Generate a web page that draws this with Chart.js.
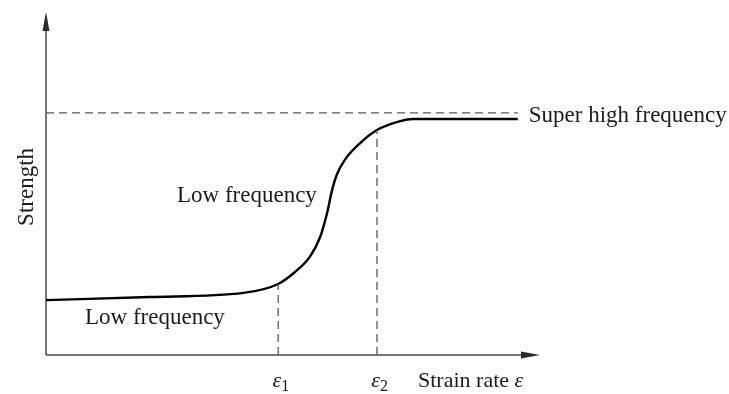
<!DOCTYPE html>
<html>
<head>
<meta charset="utf-8">
<script src="https://cdn.jsdelivr.net/npm/chart.js@4"></script>
<style>
  html, body { margin: 0; padding: 0; background: #fff; }
  #wrap { width: 729px; height: 394px; }
</style>
</head>
<body>
<div id="wrap"><canvas id="grafico" width="729" height="394"></canvas></div>
<script>
// valores (unidades arbitrárias 0..10)
const strainRate = [0, 2.1, 4.0, 4.7, 5.04, 5.34, 5.55, 5.69, 5.79, 5.89, 6.05, 6.36, 6.7, 7.17, 7.43, 9.55];
const strength   = [1.60, 1.69, 1.81, 2.07, 2.42, 2.86, 3.44, 4.14, 4.80, 5.27, 5.69, 6.18, 6.56, 6.82, 6.88, 6.88];
const superHigh = 7.06;          // nível "super high frequency"
const epsMarks = [4.7, 6.7];     // ε1, ε2
const epsLevels = [2.07, 6.56];  // onde as tracejadas tocam a curva
const tickLabels = ['1', '2'];
const xMaxData = 9.55;

const FONTE = '"Liberation Serif", "Times New Roman", serif';
const COR_TEXTO = '#1b1b1b';

const curva = strainRate.map((x, i) => ({ x: x, y: strength[i] }));

// plugin: eixos com setas e textos
const anotacoes = {
  id: 'anotacoes',
  beforeDatasetsDraw(chart) {
    const { ctx, scales: { x, y } } = chart;
    const x0 = x.getPixelForValue(0), y0 = y.getPixelForValue(0);
    const xEnd = x.getPixelForValue(10), yEnd = y.getPixelForValue(10);
    ctx.save();
    ctx.strokeStyle = '#4a4a4a';
    ctx.fillStyle = '#2a2a2a';
    ctx.lineWidth = 1.5;
    ctx.beginPath();
    ctx.moveTo(x0, y0);
    ctx.lineTo(x0, yEnd + 10);
    ctx.moveTo(x0, y0);
    ctx.lineTo(xEnd - 10, y0);
    ctx.stroke();
    // setas
    ctx.beginPath();
    ctx.moveTo(x0, yEnd);
    ctx.lineTo(x0 - 3.5, yEnd + 19);
    ctx.lineTo(x0 + 3.5, yEnd + 19);
    ctx.closePath();
    ctx.fill();
    ctx.beginPath();
    ctx.moveTo(xEnd, y0);
    ctx.lineTo(xEnd - 19, y0 - 3.5);
    ctx.lineTo(xEnd - 19, y0 + 3.5);
    ctx.closePath();
    ctx.fill();
    ctx.restore();
  },
  afterDraw(chart) {
    const { ctx, scales: { x, y } } = chart;
    ctx.save();
    ctx.fillStyle = COR_TEXTO;
    ctx.textBaseline = 'alphabetic';
    ctx.font = '23px ' + FONTE;
    ctx.textAlign = 'left';
    ctx.fillText('Super high frequency', x.getPixelForValue(xMaxData) + 11, y.getPixelForValue(superHigh) + 9);
    ctx.fillText('Low frequency', 177, 202);
    ctx.fillText('Low frequency', 85, 324);
    ctx.font = '22px ' + FONTE;
    ctx.fillText('Strain rate ', 418, 387);
    const w = ctx.measureText('Strain rate ').width;
    ctx.font = 'italic 22px ' + FONTE;
    ctx.fillText('ε', 418 + w, 387);

    // rótulos ε1, ε2
    epsMarks.forEach((v, i) => {
      const px = x.getPixelForValue(v);
      ctx.font = 'italic 22px ' + FONTE;
      ctx.textAlign = 'right';
      ctx.fillText('ε', px + 3, 387);
      ctx.font = '16px ' + FONTE;
      ctx.textAlign = 'left';
      ctx.fillText(tickLabels[i], px + 3, 391);
    });

    // título do eixo y
    ctx.translate(33, y.getPixelForValue(4.9));
    ctx.rotate(-Math.PI / 2);
    ctx.textAlign = 'center';
    ctx.font = '23px ' + FONTE;
    ctx.fillText('Strength', 0, 0);
    ctx.restore();
  }
};

const tracejado = { borderColor: '#5a5a5a', borderWidth: 1.3, borderDash: [8, 5], pointRadius: 0, fill: false };

new Chart(document.getElementById('grafico'), {
  type: 'scatter',
  data: {
    datasets: [
      Object.assign({ data: [{ x: 0, y: superHigh }, { x: xMaxData, y: superHigh }], showLine: true }, tracejado),
      Object.assign({ data: [{ x: epsMarks[0], y: 0 }, { x: epsMarks[0], y: epsLevels[0] }], showLine: true }, tracejado),
      Object.assign({ data: [{ x: epsMarks[1], y: 0 }, { x: epsMarks[1], y: epsLevels[1] }], showLine: true }, tracejado),
      {
        data: curva,
        showLine: true,
        borderColor: '#000',
        borderWidth: 2.4,
        pointRadius: 0,
        cubicInterpolationMode: 'monotone',
        fill: false
      }
    ]
  },
  options: {
    responsive: false,
    animation: false,
    devicePixelRatio: 1,
    layout: { padding: { left: 46, right: 189, top: 12, bottom: 39 } },
    plugins: { legend: { display: false }, tooltip: { enabled: false } },
    scales: {
      x: { type: 'linear', min: 0, max: 10, display: false },
      y: { type: 'linear', min: 0, max: 10, display: false }
    }
  },
  plugins: [anotacoes]
});
</script>
</body>
</html>
